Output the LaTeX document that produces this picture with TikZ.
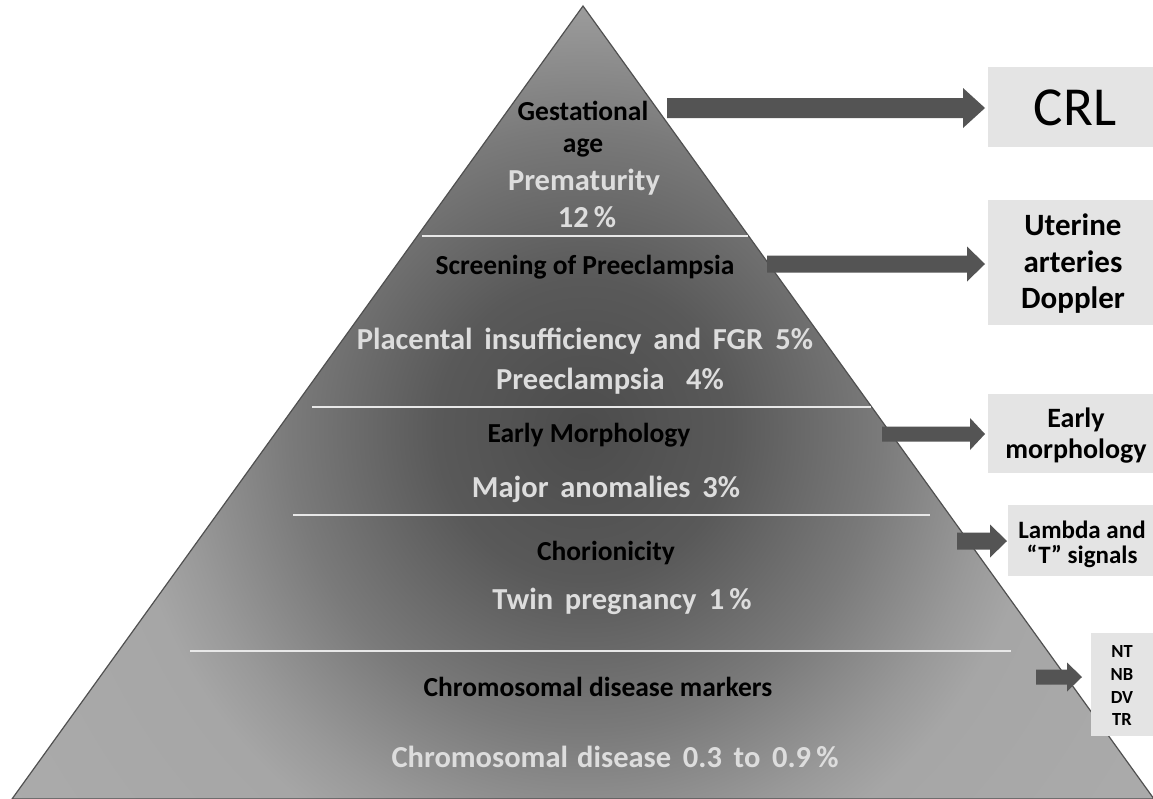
\documentclass[tikz,border=0pt]{standalone}
\usepackage{fontspec}
\setmainfont{Carlito}
\newfontfamily\lightfont[WordSpace=1.7]{Carlito}
\usetikzlibrary{calc}
\definecolor{boxgray}{HTML}{E4E4E4}
\definecolor{arrgray}{HTML}{545454}
\definecolor{lighttxt}{HTML}{DDDDDD}
\definecolor{edgegray}{HTML}{505050}
\definecolor{divline}{HTML}{E8E8E8}
\definecolor{pyrA}{HTML}{4C4C4C}
\definecolor{pyrB}{HTML}{595959}
\definecolor{pyrC}{HTML}{7A7A7A}
\definecolor{pyrD}{HTML}{999999}
\definecolor{pyrE}{HTML}{A6A6A6}
\definecolor{pyrF}{HTML}{B0B0B0}
\pgfdeclareradialshading{pyrshade}{\pgfpoint{0bp}{0bp}}{color(0bp)=(pyrA); color(4bp)=(pyrB); color(8bp)=(pyrC); color(11bp)=(pyrD); color(12.5bp)=(pyrE); color(25bp)=(pyrF); color(50bp)=(pyrF)}
\newcommand{\blockarrow}[5]{%
  \fill[arrgray] let \p1=(#1), \p2=(#2) in
    (\x1,\y1+#3) -- (\x2-#5,\y2+#3) -- (\x2-#5,\y2+#4) -- (\x2,\y2) --
    (\x2-#5,\y2-#4) -- (\x2-#5,\y2-#3) -- (\x1,\y1-#3) -- cycle;}
\tikzset{
  rbox/.style={fill=boxgray, draw=none, inner sep=0pt, anchor=north west},
  blk/.style={anchor=base, inner sep=0pt, text=black, font=\bfseries\fontsize{27.5}{32}\selectfont},
  lgt/.style={anchor=base, inner sep=0pt, text=lighttxt, font=\lightfont\bfseries\fontsize{30.5}{36}\selectfont},
  boxtxt/.style={anchor=base, inner sep=0pt, text=black},
  divider/.style={draw=divline, line width=1.6pt}
}
\begin{document}
\begin{tikzpicture}[x=1pt,y=-1pt]
\useasboundingbox (0,0) rectangle (1153,798);
\clip (0,0) rectangle (1153,798);
\fill[white] (0,0) rectangle (1153,798);
% pyramid
\coordinate (apex) at (583,6);
\coordinate (bl) at (12,799);
\coordinate (br) at (1154,799);
\begin{scope}
  \clip (apex) -- (bl) -- (br) -- cycle;
  \shade[shading=pyrshade] (-336,-510) rectangle (1504,1370);
\end{scope}
\draw[edgegray, line width=1.2pt, line join=miter] (apex) -- (bl) -- (br) -- cycle;
% dividers
\draw[divider] (422,236) -- (748,236);
\draw[divider] (312,407) -- (871,407);
\draw[divider] (293,515) -- (930,515);
\draw[divider] (190,651) -- (1011,651);
% pyramid texts
\node[blk] (gest) at (583,120) {Gestational};
\node[blk] (age) at (583,152) {age};
\node[lgt] (prem) at (584,190) {Prematurity};
\node[lgt] (p12) at (587,227) {12\,\%};
\node[blk] (scr) at (585,274) {Screening of Preeclampsia};
\node[lgt] (plac) at (585,349) {Placental insufficiency and FGR\hspace{0.4em}5\%};
\node[lgt] (pre) at (610,389) {Preeclampsia\hspace{0.7em}4\%};
\node[blk] (early) at (589,442) {Early Morphology};
\node[lgt] (major) at (606,497) {Major anomalies 3\%};
\node[blk] (chor) at (606,560) {Chorionicity};
\node[lgt] (twin) at (622,609) {Twin pregnancy\hspace{0.4em}1\,\%};
\node[blk] (chrm) at (598,696) {Chromosomal disease markers};
\node[lgt] (chrd) at (615,767) {Chromosomal\hspace{0.3em}disease 0.3 to 0.9\,\%};
% boxes
\node[rbox, minimum width=170pt, minimum height=80pt] (crlbox) at (988,67) {};
\node[rbox, minimum width=170pt, minimum height=125pt] (utbox) at (988,200) {};
\node[rbox, minimum width=170pt, minimum height=79pt] (embox) at (988,394) {};
\node[rbox, minimum width=150pt, minimum height=71pt] (lbbox) at (1008,505) {};
\node[rbox, minimum width=65pt, minimum height=103pt] (ntbox) at (1091,633) {};
% box texts
\node[boxtxt, font=\fontsize{55}{62}\selectfont] (crl) at (1075,125) {CRL};
\node[boxtxt, font=\bfseries\fontsize{31}{37}\selectfont] (ut1) at (1073,235) {Uterine};
\node[boxtxt, font=\bfseries\fontsize{31}{37}\selectfont] (ut2) at (1073,272) {arteries};
\node[boxtxt, font=\bfseries\fontsize{31}{37}\selectfont] (ut3) at (1073,308) {Doppler};
\node[boxtxt, font=\bfseries\fontsize{28}{33}\selectfont] (em1) at (1076,427) {Early};
\node[boxtxt, font=\bfseries\fontsize{28}{33}\selectfont] (em2) at (1076,458) {morphology};
\node[boxtxt, font=\bfseries\fontsize{25}{30}\selectfont] (lb1) at (1082,538) {Lambda and};
\node[boxtxt, font=\bfseries\fontsize{25}{30}\selectfont] (lb2) at (1082,563) {“T” signals};
\node[boxtxt, font=\bfseries\fontsize{18.5}{22}\selectfont] (nt1) at (1122,657) {NT};
\node[boxtxt, font=\bfseries\fontsize{18.5}{22}\selectfont] (nt2) at (1122,680) {NB};
\node[boxtxt, font=\bfseries\fontsize{18.5}{22}\selectfont] (nt3) at (1122,703) {DV};
\node[boxtxt, font=\bfseries\fontsize{18.5}{22}\selectfont] (nt4) at (1122,725) {TR};
% arrows
\coordinate (a1s) at (667,108);
\coordinate (a2s) at (767,264);
\coordinate (a3s) at (882,434);
\coordinate (a4s) at (957,541);
\coordinate (a5s) at (1036,677);
\blockarrow{a1s}{$(crlbox.west |- a1s)+(-3,0)$}{10pt}{20pt}{22pt}
\blockarrow{a2s}{$(utbox.west |- a2s)+(-3,0)$}{8.5pt}{17.5pt}{18pt}
\blockarrow{a3s}{$(embox.west |- a3s)+(-3,0)$}{7.5pt}{16pt}{15pt}
\blockarrow{a4s}{$(lbbox.west |- a4s)+(-1,0)$}{8.5pt}{16.5pt}{17pt}
\blockarrow{a5s}{$(ntbox.west |- a5s)+(-9,0)$}{7.5pt}{14.5pt}{15pt}
\end{tikzpicture}
\end{document}
